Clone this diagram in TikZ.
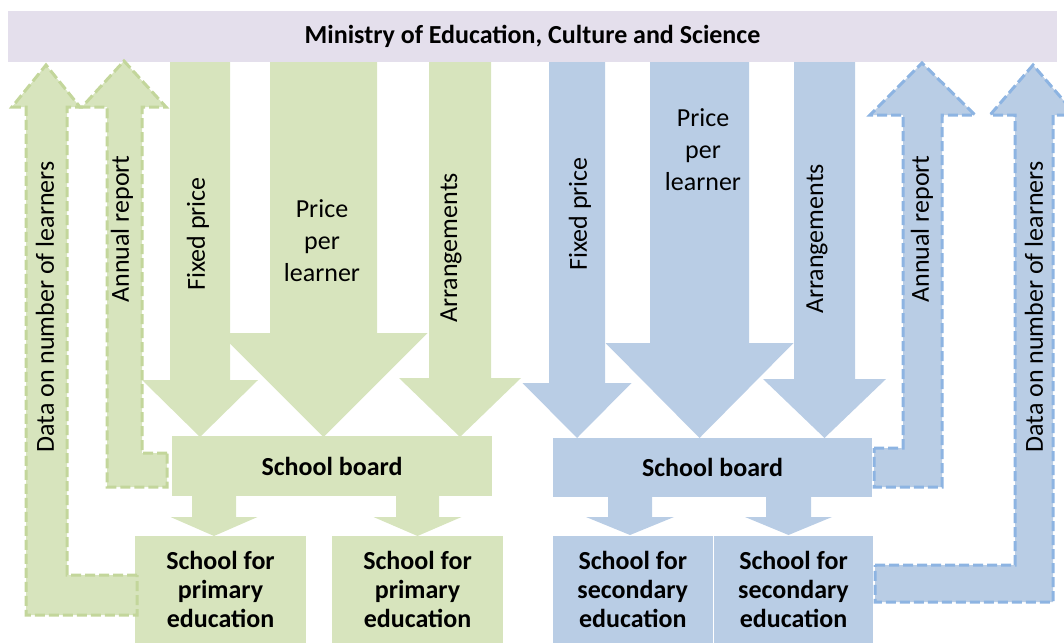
\documentclass[tikz,border=0pt]{standalone}
\usepackage{fontspec}
\setmainfont{Carlito}
\definecolor{gfill}{RGB}{215,228,189}
\definecolor{gline}{RGB}{195,214,155}
\definecolor{bfill}{RGB}{185,205,229}
\definecolor{bline}{RGB}{141,180,226}
\definecolor{lav}{RGB}{228,223,236}
\newcommand\blockdown[8]{% style, xc, from node, to node, shaft half, head base y, head half, tip y
  \fill[#1] (#2-#5,0 |- #3.south) -- (#2+#5,0 |- #3.south) -- (#2+#5,#6) -- (#2+#7,#6)
    -- (#2,#8) -- (#2-#7,#6) -- (#2-#5,#6) -- cycle;}
\begin{document}
\begin{tikzpicture}[x=1pt,y=-1pt,
  lbl/.style={font=\fontsize{26}{32}\selectfont, inner sep=0pt, align=center},
  vlbl/.style={lbl, rotate=90},
  blbl/.style={font=\fontsize{26}{29}\selectfont\bfseries, inner sep=0pt, align=center},
  gbox/.style={blbl, fill=gfill},
  bbox/.style={blbl, fill=bfill},
  gdash/.style={fill=gfill, draw=gline, line width=3pt, dash pattern=on 10pt off 4pt},
  bdash/.style={fill=bfill, draw=bline, line width=3pt, dash pattern=on 10pt off 4pt}]
\useasboundingbox (0,0) rectangle (1064,643);
% boxes
\node[fill=lav, minimum width=1049pt, minimum height=51pt, font=\fontsize{26}{29}\selectfont\bfseries, inner sep=0pt] (mini) at (532.5,36.5) {Ministry of Education, Culture and Science};
\node[gbox, minimum width=320pt, minimum height=60pt] (sbL) at (332,466) {School board};
\node[bbox, minimum width=319pt, minimum height=59pt] (sbR) at (712.5,467.5) {School board};
\node[gbox, minimum width=171pt, minimum height=107pt] (p1) at (220.5,589.5) {School for\\primary\\education};
\node[gbox, minimum width=171pt, minimum height=107pt] (p2) at (417.5,589.5) {School for\\primary\\education};
\node[bbox, minimum width=159.5pt, minimum height=107pt] (s1) at (632.75,589.5) {School for\\secondary\\education};
\node[bbox, minimum width=159pt, minimum height=107pt] (s2) at (793.5,589.5) {School for\\secondary\\education};
% big block arrows (green)
\blockdown{gfill}{200}{mini}{sbL}{30}{380}{58}{437}
\blockdown{gfill}{323.5}{mini}{sbL}{53.5}{333}{104}{437}
\blockdown{gfill}{460}{mini}{sbL}{31}{378}{61}{437}
\blockdown{gfill}{214}{sbL}{p1}{22}{517}{43.5}{536}
\blockdown{gfill}{417.5}{sbL}{p2}{21.5}{517}{44}{536}
% big block arrows (blue)
\blockdown{bfill}{577}{mini}{sbR}{28}{383}{54.5}{438}
\blockdown{bfill}{699.5}{mini}{sbR}{49.5}{343}{94}{438}
\blockdown{bfill}{824.5}{mini}{sbR}{30.5}{379}{61.5}{438}
\blockdown{bfill}{630}{sbR}{s1}{22}{517}{44}{535}
\blockdown{bfill}{788.5}{sbR}{s2}{22.5}{517}{43.5}{535}
% dashed return arrows
\draw[gdash] (137,575) -- (67,575) -- (67,107) -- (80,107) -- (46,65) -- (12,107) -- (26,107) -- (26,615) -- (137,615) -- cycle;
\draw[gdash] (167,453) -- (142,453) -- (142,107) -- (166,107) -- (124,61) -- (82,107) -- (107,107) -- (107,487) -- (167,487) -- cycle;
\draw[bdash] (874,448) -- (903,448) -- (903,115) -- (870,115) -- (922,63) -- (975,115) -- (942,115) -- (942,487) -- (874,487) -- cycle;
\draw[bdash] (875,565) -- (1015,565) -- (1015,115) -- (990,115) -- (1033,65) -- (1076,115) -- (1053,115) -- (1053,602) -- (875,602) -- cycle;
% labels
\node[vlbl] (gdata) at (45,307) {Data on number of learners};
\node[vlbl] (gann) at (122,229) {Annual report};
\node[vlbl] (gfp) at (198,234) {Fixed price};
\node[lbl] (gppl) at (322,241) {Price\\per\\learner};
\node[vlbl] (garr) at (451,248) {Arrangements};
\node[vlbl] (bfp) at (580,214) {Fixed price};
\node[lbl] (bppl) at (703,150) {Price\\per\\learner};
\node[vlbl] (barr) at (817,239) {Arrangements};
\node[vlbl] (bann) at (922,229) {Annual report};
\node[vlbl] (bdata) at (1034,307) {Data on number of learners};
\end{tikzpicture}
\end{document}
